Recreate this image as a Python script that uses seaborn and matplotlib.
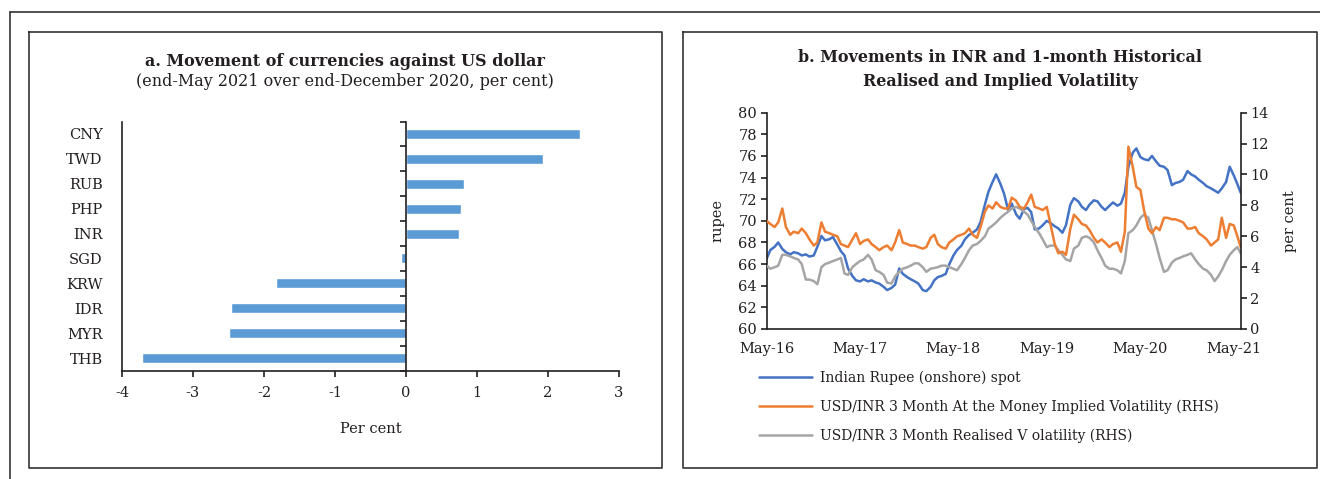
import pandas as pd
import matplotlib
matplotlib.use('Agg')
import matplotlib.pyplot as plt
import matplotlib.dates as mdates
from matplotlib.lines import Line2D
from matplotlib.ticker import MultipleLocator, FixedLocator
import seaborn as sns

# panel a: change against US dollar, per cent
currencies = ['CNY', 'TWD', 'RUB', 'PHP', 'INR', 'SGD', 'KRW', 'IDR', 'MYR', 'THB']
change_pct = [2.45, 1.93, 0.82, 0.78, 0.74, -0.07, -1.83, -2.46, -2.49, -3.72]

# panel b: semi-monthly readings, May-2016 to end-May 2021
dates = list(pd.date_range('2016-05-01', '2021-05-15', freq='SMS')) + [pd.Timestamp('2021-05-28')]

inr_spot = [
    66.5, 67.3, 67.6, 68.0, 67.4, 67.1, 66.9, 67.1, 67.0, 66.8, 66.9, 66.7,
    66.8, 67.6, 68.6, 68.2, 68.3, 68.5, 67.8, 67.2, 66.8, 65.6, 64.9, 64.5,
    64.4, 64.6, 64.4, 64.5, 64.3, 64.2, 63.9, 63.6, 63.8, 64.1, 65.6, 65.1,
    64.8, 64.6, 64.4, 64.2, 63.6, 63.5, 63.9, 64.5, 64.8, 64.9, 65.1, 66.0,
    66.8, 67.3, 67.7, 68.3, 68.7, 68.9, 69.2, 69.9, 71.5, 72.7, 73.6, 74.3,
    73.4, 72.5, 71.0, 71.6, 70.6, 70.2, 71.1, 71.2, 70.8, 69.2, 69.3, 69.6,
    70.0, 69.8, 69.5, 69.3, 68.9, 69.6, 71.5, 72.1, 71.8, 71.3, 71.0, 71.5,
    71.9, 71.8, 71.3, 71.0, 71.4, 71.7, 71.4, 71.6, 72.6, 75.0, 76.3, 76.7,
    75.9, 75.7, 75.6, 76.0, 75.5, 75.1, 75.0, 74.7, 73.3, 73.5, 73.6, 73.8,
    74.6, 74.3, 74.1, 73.8, 73.5, 73.2, 73.0, 72.8, 72.6, 73.0, 73.6, 75.0,
    74.2, 73.4, 72.6,
]

implied_vol = [
    7.0, 6.8, 6.6, 6.9, 7.8, 6.6, 6.1, 6.3, 6.2, 6.5, 6.2, 5.8,
    5.4, 5.6, 6.9, 6.3, 6.2, 6.1, 6.0, 5.5, 5.4, 5.3, 5.8, 6.2,
    5.5, 5.7, 5.8, 5.5, 5.3, 5.1, 5.3, 5.4, 5.1, 5.6, 6.4, 5.6,
    5.5, 5.4, 5.4, 5.3, 5.2, 5.3, 5.9, 6.1, 5.5, 5.3, 5.2, 5.6,
    5.8, 6.0, 6.1, 6.2, 6.5, 6.1, 5.9, 6.6, 7.6, 8.0, 7.8, 8.2,
    7.9, 7.8, 7.8, 8.5, 8.3, 7.9, 7.8, 8.2, 8.7, 7.9, 7.8, 7.7,
    7.9, 6.8, 5.5, 4.9, 5.0, 4.8, 6.5, 7.4, 7.1, 6.8, 6.7, 6.4,
    5.9, 5.6, 5.8, 5.6, 5.3, 5.5, 5.6, 5.0, 6.3, 11.8, 10.5, 9.2,
    9.0, 7.7, 6.5, 6.2, 6.6, 6.4, 7.2, 7.2, 7.1, 7.1, 7.0, 6.9,
    6.5, 6.5, 6.6, 6.2, 6.0, 5.8, 5.4, 5.6, 5.8, 7.2, 5.9, 6.8,
    6.7, 6.0, 5.3,
]

realised_vol = [
    4.1, 3.9, 4.0, 4.1, 4.8, 4.8, 4.7, 4.6, 4.5, 4.2, 3.2, 3.2,
    3.1, 2.9, 4.0, 4.2, 4.3, 4.4, 4.5, 4.6, 3.6, 3.5, 4.0, 4.2,
    4.4, 4.5, 4.8, 4.5, 3.8, 3.7, 3.5, 3.0, 2.95, 3.4, 3.7, 3.9,
    4.0, 4.1, 4.25, 4.25, 4.0, 3.7, 3.9, 3.95, 4.0, 4.1, 4.1, 4.0,
    3.9, 3.8, 4.2, 4.6, 5.1, 5.4, 5.5, 5.7, 6.0, 6.5, 6.7, 6.9,
    7.2, 7.4, 7.6, 7.8, 7.9, 7.8, 7.6, 7.4, 7.0, 6.6, 6.2, 5.8,
    5.3, 5.4, 5.4, 5.1, 4.8, 4.5, 4.4, 5.2, 5.4, 5.9, 6.0, 5.9,
    5.6, 5.1, 4.6, 4.1, 3.9, 3.9, 3.8, 3.6, 4.4, 6.2, 6.4, 6.7,
    7.2, 7.4, 7.2, 6.4, 5.5, 4.6, 3.7, 3.8, 4.3, 4.5, 4.6, 4.7,
    4.8, 4.9, 4.5, 4.2, 3.9, 3.8, 3.5, 3.1, 3.4, 3.8, 4.4, 4.8,
    5.1, 5.3, 4.9,
]

series_labels = ['Indian Rupee (onshore) spot',
                 'USD/INR 3 Month At the Money Implied Volatility (RHS)',
                 'USD/INR 3 Month Realised V olatility (RHS)']

sns.set_style('white')
plt.rcParams['font.family'] = ['DejaVu Serif']
plt.rcParams['axes.unicode_minus'] = False
plt.rcParams['text.color'] = '#231f20'
plt.rcParams['axes.labelcolor'] = '#231f20'
plt.rcParams['xtick.color'] = '#231f20'
plt.rcParams['ytick.color'] = '#231f20'

W, H = 1320, 479
fig = plt.figure(figsize=(W / 100, H / 100), dpi=100)

# frames round the figure and the two panels
frame_kw = dict(color='#333333', lw=1.2, transform=fig.transFigure)
fig.add_artist(Line2D([9.5 / W, 1], [1 - 12 / H, 1 - 12 / H], **frame_kw))
fig.add_artist(Line2D([9.5 / W, 9.5 / W], [0, 1 - 12 / H], **frame_kw))
for x0, x1 in [(28.5, 662), (683, 1316.5)]:
    xs = [x0 / W, x1 / W, x1 / W, x0 / W, x0 / W]
    ys = [1 - 31.5 / H, 1 - 31.5 / H, 1 - 468 / H, 1 - 468 / H, 1 - 31.5 / H]
    fig.add_artist(Line2D(xs, ys, **frame_kw))

# ---- panel a
ax1 = fig.add_axes([122 / W, 1 - 370.5 / H, 497 / W, 249 / H])
sns.barplot(x=change_pct, y=currencies, orient='h', color='#5B9BD5',
            saturation=1, width=0.4, ax=ax1)
ax1.set_xlim(-4, 3)
ax1.set_ylim(9.5, -0.5)
ax1.xaxis.set_major_locator(MultipleLocator(1))
ax1.spines['top'].set_visible(False)
ax1.spines['right'].set_position(('data', 0))
for s in ['left', 'bottom', 'right']:
    ax1.spines[s].set_color('#231f20')
    ax1.spines[s].set_linewidth(1.2)
ax1.yaxis.set_minor_locator(FixedLocator([i - 0.5 for i in range(len(currencies) + 1)]))
ax1.tick_params(axis='y', which='major', length=0, pad=14, labelsize=10.5)
ax1.tick_params(axis='y', which='minor', left=False, right=True, direction='in',
                length=4, width=1.2)
ax1.tick_params(axis='x', which='major', bottom=True, direction='out', length=4,
                width=1.2, labelsize=10.5, pad=7)
ax1.set_xlabel('Per cent', fontsize=10.5, labelpad=16)
ax1.set_ylabel('')

fig.text(345 / W, 1 - 61 / H, 'a. Movement of currencies against US dollar',
         ha='center', va='center', fontsize=11.5, fontweight='bold')
fig.text(345 / W, 1 - 81 / H, '(end-May 2021 over end-December 2020, per cent)',
         ha='center', va='center', fontsize=11.5)

# ---- panel b
ax = fig.add_axes([766.7 / W, 1 - 329 / H, 474 / W, 216.3 / H])
ax2 = ax.twinx()
sns.lineplot(x=dates, y=inr_spot, ax=ax, color='#4472C4', lw=1.8, label=series_labels[0], legend=False)
sns.lineplot(x=dates, y=realised_vol, ax=ax2, color='#A5A5A5', lw=1.8, label=series_labels[2], legend=False)
sns.lineplot(x=dates, y=implied_vol, ax=ax2, color='#ED7D31', lw=1.8, label=series_labels[1], legend=False)

ax.set_xlim(dates[0], dates[-1])
ax.set_ylim(60, 80)
ax2.set_ylim(0, 14)
ax.yaxis.set_major_locator(MultipleLocator(2))
ax2.yaxis.set_major_locator(MultipleLocator(2))
ax.xaxis.set_major_locator(mdates.MonthLocator(bymonth=5, bymonthday=1))
ax.xaxis.set_major_formatter(mdates.DateFormatter('%b-%y'))

ax.spines['top'].set_visible(False)
ax.spines['right'].set_visible(False)
for s in ['top', 'left', 'bottom']:
    ax2.spines[s].set_visible(False)
for a in (ax, ax2):
    for s in a.spines.values():
        s.set_color('#231f20')
        s.set_linewidth(1.2)
    a.tick_params(direction='out', length=4, width=1.2, labelsize=10.5, pad=3)
ax.tick_params(axis='x', pad=5)

ax.set_ylabel('rupee', fontsize=10.5)
ax.set_xlabel('')
ax2.set_ylabel('per cent', fontsize=10.5)
ax.yaxis.set_label_coords(-0.088, 0.5)
ax2.yaxis.set_label_coords(1.089, 0.5)

fig.text(1000 / W, 1 - 57 / H, 'b. Movements in INR and 1-month Historical',
         ha='center', va='center', fontsize=11.5, fontweight='bold')
fig.text(1000 / W, 1 - 82 / H, 'Realised and Implied Volatility',
         ha='center', va='center', fontsize=11.5, fontweight='bold')

handles = [ax.get_lines()[0], ax2.get_lines()[1], ax2.get_lines()[0]]
fig.legend(handles, series_labels, loc='upper left',
           bbox_to_anchor=(752 / W, 1 - 364 / H), frameon=False, borderpad=0,
           handlelength=3.8, handletextpad=0.6, labelspacing=1.05, fontsize=10)

fig.savefig('out.png', dpi=100)
